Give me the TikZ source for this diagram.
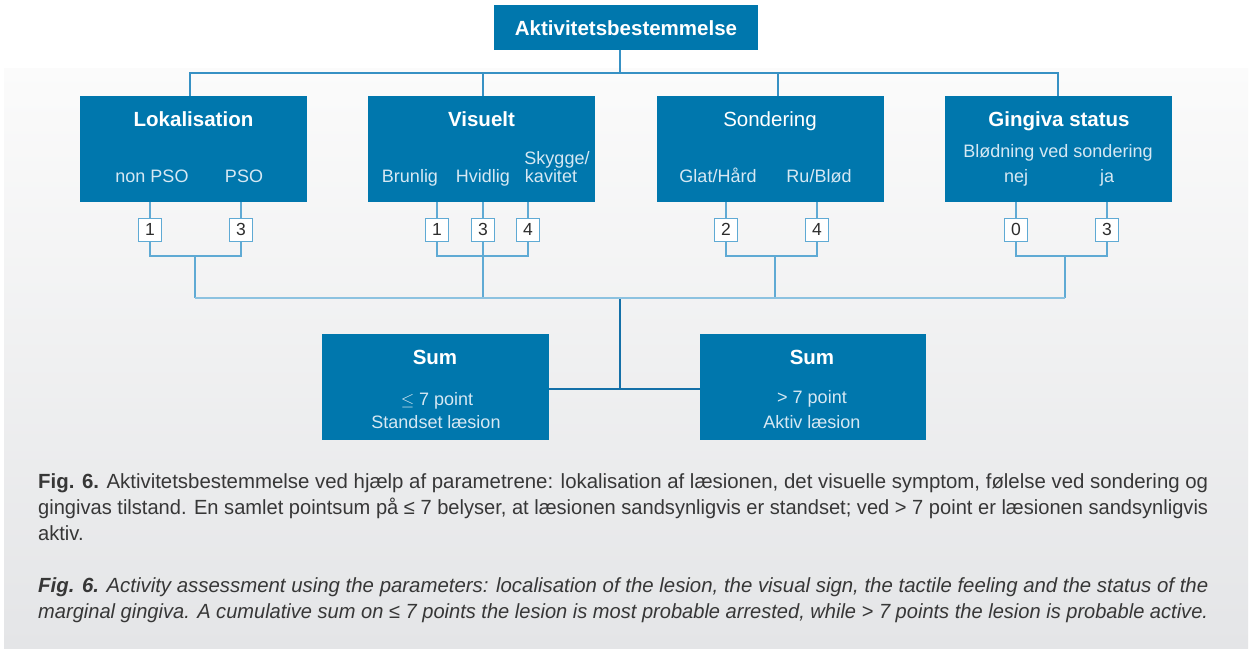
\documentclass[tikz,border=0pt]{standalone}
\usepackage{fontspec}
\usepackage{graphicx}
\setmainfont{Liberation Sans}
\definecolor{boxblue}{RGB}{0,119,173}
\definecolor{linemid}{RGB}{55,145,196}
\definecolor{linelight}{RGB}{95,170,212}
\definecolor{buslight}{RGB}{140,194,224}
\definecolor{linedark}{RGB}{20,112,168}
\definecolor{subtxt}{RGB}{214,232,243}
\definecolor{numtxt}{RGB}{45,45,45}
\definecolor{captxt}{RGB}{55,55,55}
\definecolor{paneltop}{RGB}{251,251,251}
\definecolor{panelbot}{RGB}{228,229,231}
\newsavebox\capboxA
\newlength\caplenA
\newcommand\capfnt{\fontsize{20.5}{24}\selectfont}
\begin{document}
\sbox\capboxA{\capfnt gingivas tilstand. En samlet pointsum på ≤ 7 belyser, at læsionen sandsynligvis er standset; ved > 7 point er læsionen sandsynligvis}%
\setlength\caplenA{\wd\capboxA}%
\pgfmathsetmacro\capsx{1170/\caplenA}%
\begin{tikzpicture}[x=1pt,y=-1pt,
  bigbox/.style={fill=boxblue,draw=none,anchor=north west,inner sep=0pt,outer sep=0pt},
  ttlb/.style={text=white,anchor=base,inner sep=0pt,font=\fontsize{20.5}{24}\selectfont\bfseries},
  ttlr/.style={text=white,anchor=base,inner sep=0pt,font=\fontsize{20.5}{24}\selectfont},
  subt/.style={text=subtxt,anchor=base,inner sep=0pt,font=\fontsize{18}{21}\selectfont},
  numbox/.style={draw=linelight,fill=white,line width=1pt,minimum size=23pt,inner sep=0pt,outer sep=0pt,text=numtxt,font=\fontsize{17.5}{20}\selectfont},
  topline/.style={draw=linemid,line width=1.1pt},
  numline/.style={draw=linelight,line width=1.1pt},
  busline/.style={draw=buslight,line width=2pt},
  sumline/.style={draw=linedark,line width=1.1pt},
  capn/.style={anchor=base west,inner sep=0pt,text=captxt,font=\capfnt}
]
\useasboundingbox (0,0) rectangle (1253,648);
\fill[white] (0,0) rectangle (1253,648);
\shade[top color=paneltop,bottom color=panelbot] (4,68) rectangle (1248,648);

% top box
\node[bigbox,minimum width=264pt,minimum height=45pt] (top) at (494,5) {};
\node[ttlb] (topT) at (626,35) {Aktivitetsbestemmelse};

% parameter boxes
\node[bigbox,minimum width=227pt,minimum height=106pt] (lok) at (80,96) {};
\node[bigbox,minimum width=227pt,minimum height=106pt] (vis) at (368,96) {};
\node[bigbox,minimum width=227pt,minimum height=106pt] (son) at (657,96) {};
\node[bigbox,minimum width=227pt,minimum height=106pt] (gin) at (945,96) {};

\node[ttlb] (lokT) at (193.5,126) {Lokalisation};
\node[subt] (lokA) at (152,182) {non PSO};
\node[subt] (lokB) at (244,182) {PSO};

\node[ttlb] (visT) at (481.5,126) {Visuelt};
\node[subt] (visA) at (410,182) {Brunlig};
\node[subt] (visB) at (483,182) {Hvidlig};
\node[subt] (visC1) at (557,164) {Skygge/};
\node[subt] (visC2) at (551,182) {kavitet};

\node[ttlr] (sonT) at (770,126) {Sondering};
\node[subt] (sonA) at (718,182) {Glat/Hård};
\node[subt] (sonB) at (819,182) {Ru/Blød};

\node[ttlb] (ginT) at (1059,126) {Gingiva status};
\node[subt] (ginS) at (1058,157) {Blødning ved sondering};
\node[subt] (ginA) at (1016,182) {nej};
\node[subt] (ginB) at (1107,182) {ja};

% number boxes
\node[numbox] (l1) at (150,229.5) {1};
\node[numbox] (l3) at (241,229.5) {3};
\node[numbox] (v1) at (437,229.5) {1};
\node[numbox] (v3) at (483,229.5) {3};
\node[numbox] (v4) at (528,229.5) {4};
\node[numbox] (s2) at (726,229.5) {2};
\node[numbox] (s4) at (817,229.5) {4};
\node[numbox] (g0) at (1016,229.5) {0};
\node[numbox] (g3) at (1107,229.5) {3};

% sum boxes
\node[bigbox,minimum width=227pt,minimum height=106pt] (sumL) at (322,334) {};
\node[bigbox,minimum width=226pt,minimum height=106pt] (sumR) at (700,334) {};
\node[ttlb] (sumLT) at (435,364) {Sum};
\node[subt] (sumLA) at (437,405) {$\leq$ 7 point};
\node[subt] (sumLB) at (436,428) {Standset læsion};
\node[ttlb] (sumRT) at (812,364) {Sum};
\node[subt] (sumRA) at (812,403) {> 7 point};
\node[subt] (sumRB) at (812,428) {Aktiv læsion};

% coordinates for connectors
\coordinate (tj) at (620,73);
\coordinate (tl) at (190,73);
\coordinate (tv) at (483,73);
\coordinate (ts) at (778,73);
\coordinate (tg) at (1058,73);
\coordinate (bl) at (195,256);
\coordinate (bs) at (775,256);
\coordinate (bg) at (1065,256);
\coordinate (busL) at (195,298);
\coordinate (busV) at (483,298);
\coordinate (busS) at (775,298);
\coordinate (busR) at (1065,298);
\coordinate (sj) at (620,389);

% top connectors
\draw[topline] (tj |- top.south) -- (tj);
\draw[topline] (tl |- lok.north) -- (tl) -- (tg) -- (tg |- gin.north);
\draw[topline] (tv) -- (tv |- vis.north);
\draw[topline] (ts) -- (ts |- son.north);

% box to number boxes
\foreach \n/\b in {l1/lok,l3/lok,v1/vis,v3/vis,v4/vis,s2/son,s4/son,g0/gin,g3/gin}
  \draw[numline] (\n |- \b.south) -- (\n.north);

% number bridges
\draw[numline] (l1.south) |- (bl) -| (l3.south);
\draw[numline] (bl) -- (busL);
\draw[numline] (v1.south) |- (483,256) -| (v4.south);
\draw[numline] (v3.south) -- (busV);
\draw[numline] (s2.south) |- (bs) -| (s4.south);
\draw[numline] (bs) -- (busS);
\draw[numline] (g0.south) |- (bg) -| (g3.south);
\draw[numline] (bg) -- (busR);

% bus
\draw[busline] (busL) -- (busR);

% sum connectors
\draw[sumline] (620,299) -- (sj);
\draw[sumline] (sumL.east |- sj) -- (sumR.west |- sj);

% captions
\node[capn] (c1) at (38,488) {\resizebox{1170pt}{\height}{\textbf{Fig. 6.} Aktivitetsbestemmelse ved hjælp af parametrene: lokalisation af læsionen, det visuelle symptom, følelse ved sondering og}};
\node[capn] (c2) at (38,514) {\resizebox{1170pt}{\height}{gingivas tilstand. En samlet pointsum på ≤ 7 belyser, at læsionen sandsynligvis er standset; ved > 7 point er læsionen sandsynligvis}};
\node[capn] (c3) at (38,540) {\scalebox{\capsx}[1]{aktiv.}};
\node[capn] (e1) at (38,592) {\resizebox{1170pt}{\height}{\textit{\textbf{Fig. 6.} Activity assessment using the parameters: localisation of the lesion, the visual sign, the tactile feeling and the status of the}}};
\node[capn] (e2) at (38,618) {\resizebox{1170pt}{\height}{\textit{marginal gingiva. A cumulative sum on ≤ 7 points the lesion is most probable arrested, while > 7 points the lesion is probable active.}}};
\end{tikzpicture}
\end{document}
